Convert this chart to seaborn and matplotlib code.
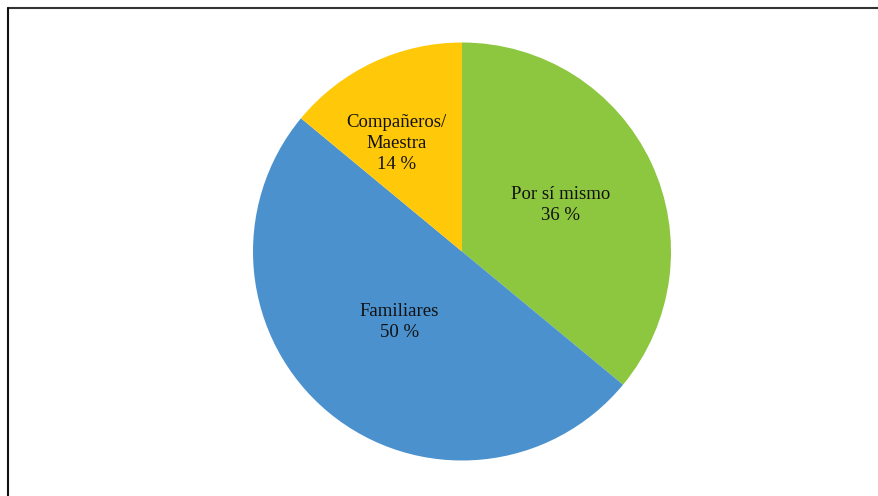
import numpy as np
import matplotlib
matplotlib.use("Agg")
import matplotlib.pyplot as plt
from matplotlib.lines import Line2D
import seaborn as sns

sns.set_theme(style="white")
plt.rcParams["font.family"] = ["Liberation Serif", "DejaVu Serif"]

labels = ["Por sí mismo", "Familiares", "Compañeros/\nMaestra"]
values = [36, 50, 14]
colors = ["#8DC63F", "#4A91CE", "#FFC90A"]
# radial distance and angular nudge (degrees) of each label inside its wedge
label_radius = [0.52, 0.45, 0.605]
label_shift = [0, -2, 6]

W, H = 879, 496
fig = plt.figure(figsize=(W / 100, H / 100), dpi=100)
fig.patch.set_facecolor("white")

cx, cy, r = 462, 251.5, 209
ax = fig.add_axes([(cx - r) / W, (H - cy - r) / H, 2 * r / W, 2 * r / H])

wedges, _ = ax.pie(values, colors=colors, startangle=90, counterclock=False,
                   radius=1.0, wedgeprops=dict(linewidth=0))
ax.set_xlim(-1, 1)
ax.set_ylim(-1, 1)
ax.set_aspect("auto")
ax.axis("off")

for w, lab, val, rad, sh in zip(wedges, labels, values, label_radius, label_shift):
    mid = np.deg2rad((w.theta1 + w.theta2) / 2 + sh)
    ax.text(rad * np.cos(mid), rad * np.sin(mid), f"{lab}\n{val} %",
            ha="center", va="center", fontsize=13.5, color="#111111",
            linespacing=1.32)

# frame lines along the top and left edges
fig.add_artist(Line2D([8 / W, 1.0], [1 - 8 / H, 1 - 8 / H],
                      transform=fig.transFigure, color="#333333", lw=1.5))
fig.add_artist(Line2D([8 / W, 8 / W], [0.0, 1 - 8 / H],
                      transform=fig.transFigure, color="#111111", lw=1.5))

fig.savefig("out.png", dpi=100)
